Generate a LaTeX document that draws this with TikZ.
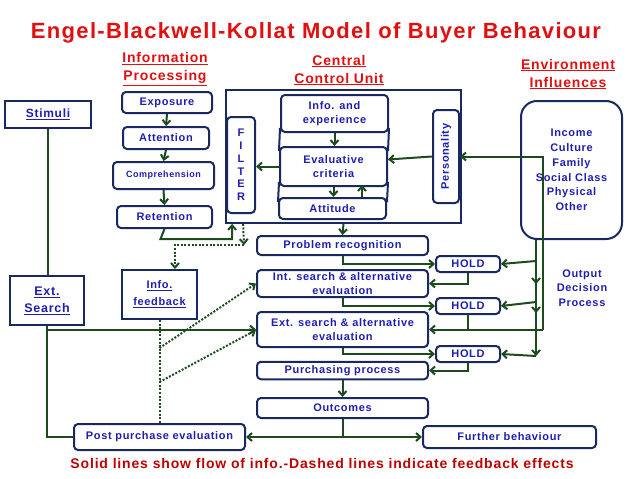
\documentclass[tikz,border=0pt]{standalone}
\usepackage{fontspec}
\setmainfont{Liberation Sans}[LetterSpace=6]
\usepackage{graphicx}
\usetikzlibrary{arrows.meta,%
                positioning}

\definecolor{boxblue}{RGB}{25,40,95}
\definecolor{txtblue}{RGB}{30,30,175}
\definecolor{flowgreen}{RGB}{30,75,30}
\definecolor{titlered}{RGB}{225,15,15}
\definecolor{notered}{RGB}{190,0,0}

\newcommand\boxfont{\fontsize{11}{14.5}\selectfont\bfseries}
\newcommand\headfont{\fontsize{14}{18}\selectfont\bfseries}

\begin{document}
\begin{tikzpicture}[x=1pt,y=-1pt,
    box/.style={draw=boxblue,line width=2pt,rounded corners=4pt,text=txtblue,
                font=\boxfont,align=center,inner sep=0pt},
    sqbox/.style={box,sharp corners},
    holdbox/.style={box,minimum width=64pt,minimum height=16pt},
    mainbox/.style={box,minimum width=171pt},
    flowline/.style={draw=flowgreen,line width=2pt},
    flow/.style={flowline,-{Straight Barb[length=4.5pt,width=8pt]}},
    fb/.style={flow,dash pattern=on 2pt off 1.6pt},
    head/.style={text=titlered,font=\headfont,align=center}]

      \useasboundingbox (0,0) rectangle (638,479);

      % titles
      \node[text=titlered,font=\fontsize{22}{26}\selectfont\bfseries] (title)
      at (316,33) {Engel-Blackwell-Kollat Model of Buyer Behaviour};
      \node[head] (infohead) at (165,69) {\underline{Information}\\\underline{Processing}};
      \node[head] (ccuhead) at (339,70) {\underline{Central}\\\underline{Control Unit}};
      \node[head] (envhead) at (568,74) {\underline{Environment}\\\underline{Influences}};
      \node[text=notered,font=\fontsize{14}{16}\selectfont\bfseries] (note)
      at (322,463) {Solid lines show flow of info.-Dashed lines indicate feedback effects};

      % information processing
      \node[sqbox,minimum width=86pt,minimum height=27pt,font=\boxfont\fontsize{12}{14}\selectfont]
      (stimuli) at (48,114.5) {\underline{Stimuli}};
      \node[box,minimum width=90pt,minimum height=21pt] (exposure) at (167,102.5) {Exposure};
      \node[box,minimum width=86pt,minimum height=22pt] (attention) at (166,138) {Attention};
      \node[box,minimum width=101pt,minimum height=27pt,font=\boxfont\fontsize{9}{11}\selectfont]
      (compre) at (163.5,175.5) {Comprehension};
      \node[box,minimum width=95pt,minimum height=22pt] (retention) at (164.5,217) {Retention};

      % central control unit
      \node[sqbox,line width=1.8pt,minimum width=235pt,minimum height=133pt] (ccu) at (343.5,156.5) {};
      \node[box,minimum width=28pt,minimum height=96pt,font=\boxfont\fontsize{11}{12.8}\selectfont]
      (filter) at (241,165) {F\\I\\L\\T\\E\\R};
      \node[box,minimum width=107pt,minimum height=37pt] (infoexp) at (334.5,113.5) {Info. and\\experience};
      \node[box,minimum width=107pt,minimum height=39pt] (evalcrit) at (333.5,166.5) {Evaluative\\criteria};
      \node[box,minimum width=107pt,minimum height=21pt] (attitude) at (332.5,208.5) {Attitude};
      \draw[boxblue,line width=2pt] ([yshift=5pt]infoexp.south west) -- ([yshift=-5pt]evalcrit.north west)
      ([yshift=5pt]evalcrit.south west) -- ([yshift=-5pt]attitude.north west)
      ([yshift=5pt]infoexp.south east) -- ([yshift=-5pt]evalcrit.north east)
      ([yshift=5pt]evalcrit.south east) -- ([yshift=-5pt]attitude.north east);
      \node[box,minimum width=26pt,minimum height=93pt] (personality) at (446,156.5)
      {\rotatebox{90}{Personality}};

      % environment
      \node[box,rounded corners=16pt,minimum width=101pt,minimum height=138pt,
      font=\boxfont\fontsize{11}{14.8}\selectfont] (env) at (571.5,170)
      {Income\\Culture\\Family\\Social Class\\Physical\\Other};
      \node[text=txtblue,font=\boxfont,align=center] (outdec) at (582,288) {Output\\Decision\\Process};

      % decision process
      \node[mainbox,minimum height=19pt] (probrec) at (342.5,245.5) {Problem recognition};
      \node[mainbox,minimum height=27pt] (intsearch) at (342.5,283.5) {Int. search \& alternative\\evaluation};
      \node[mainbox,minimum height=35pt] (extsearch) at (342.5,329.5) {Ext. search \& alternative\\evaluation};
      \node[mainbox,minimum height=17.5pt] (purchase) at (342.5,370.5) {Purchasing process};
      \node[mainbox,minimum height=20pt] (outcomes) at (342.5,408) {Outcomes};
      \node[holdbox] (holdA) at (468,264) {HOLD};
      \node[holdbox] (holdB) at (468,306) {HOLD};
      \node[holdbox] (holdC) at (468,354) {HOLD};
      \node[box,minimum width=171pt,minimum height=26pt] (postpe) at (159.5,437) {Post purchase evaluation};
      \node[box,minimum width=173pt,minimum height=22pt] (further) at (509.5,437) {Further behaviour};
      \node[sqbox,minimum width=74pt,minimum height=49pt,font=\boxfont\fontsize{12.5}{17}\selectfont]
      (extsrch) at (47,300.5) {\underline{Ext.}\\\underline{Search}};
      \node[sqbox,minimum width=75pt,minimum height=49pt,font=\boxfont\fontsize{11}{17}\selectfont]
      (infofb) at (159.5,294.5) {\underline{Info.}\\\underline{feedback}};

      % solid flows
      \draw[flow] (exposure.south) -- (attention.north);
      \draw[flow] (attention.south) -- (compre.north);
      \draw[flow] (compre.south) -- (retention.north);
      \draw[flow] (retention.south) -- ++(-4,10) -| ([xshift=7pt]ccu.south west);
      \draw[flow] (infoexp.south) -- (infoexp.south |- evalcrit.north);
      \draw[flow] (evalcrit.south) -- (evalcrit.south |- attitude.north);
      \draw[flow] ([xshift=29.5pt]attitude.north) -- ++(0,-12);
      \draw[flow] (evalcrit.west) -- (evalcrit.west -| filter.east);
      \draw[flow] (personality.west) -- ([yshift=7pt]evalcrit.east);
      \draw[flow] (ccu.south) -- (probrec.north);

      \coordinate (envline) at (543,329.5);
      \draw[flow] (envline) |- (personality.east);
      \draw[flow] (envline) -- (extsearch.east);

      \coordinate (outA) at (536,261);
      \coordinate (outB) at (536,302);
      \coordinate (outC) at (536,356);
      \draw[flowline] (env.south -| outA) -- (outA);
      \draw[flow] (outA) -- ++(0,23);
      \draw[flow] (outA) -- ++(0,52);
      \draw[flow] (outB) -- (outC);
      \draw[flow] (outA) -- (holdA.east);
      \draw[flow] (outB) -- (holdB.east);
      \draw[flow] (outC) -- (holdC.east);

      \draw[flow] (probrec.south) |- (holdA.west);
      \draw[flow] (holdA.south) |- (intsearch.east);
      \draw[flow] (intsearch.south) |- (holdB.west);
      \draw[flowline] (holdB.south) -- (holdB.south |- envline);
      \draw[flow] (extsearch.south) |- (holdC.west);
      \draw[flow] (holdC.south) |- (purchase.east);
      \draw[flow] (purchase.south) -- (outcomes.north);
      \coordinate (split) at (outcomes.south |- postpe.east);
      \draw[flow] (outcomes.south) -- (split) -- (postpe.east);
      \draw[flow] (split) -- (further.west);

      \draw[flowline] (stimuli.south) -- (stimuli.south |- extsrch.north);
      \draw[flowline] (postpe.west) -| (extsrch.south);
      \draw[flow] (extsrch.south |- extsearch.west) -- (extsearch.west);

      % feedback (dashed)
      \coordinate (fbturn) at (244,245);
      \draw[fb] ([xshift=18pt]ccu.south west) -- (fbturn);
      \draw[fb] (fbturn) -| ([xshift=15.5pt]infofb.north);
      \draw[fb,-] (infofb.south) -- (postpe.north);
      \coordinate (fbA) at (159.5,348);
      \coordinate (fbB) at (159.5,382);
      \draw[fb] (fbA) -- (intsearch.west);
      \draw[fb] (fbB) -- ([yshift=-0.5pt]extsearch.west);
\end{tikzpicture}
\end{document}
